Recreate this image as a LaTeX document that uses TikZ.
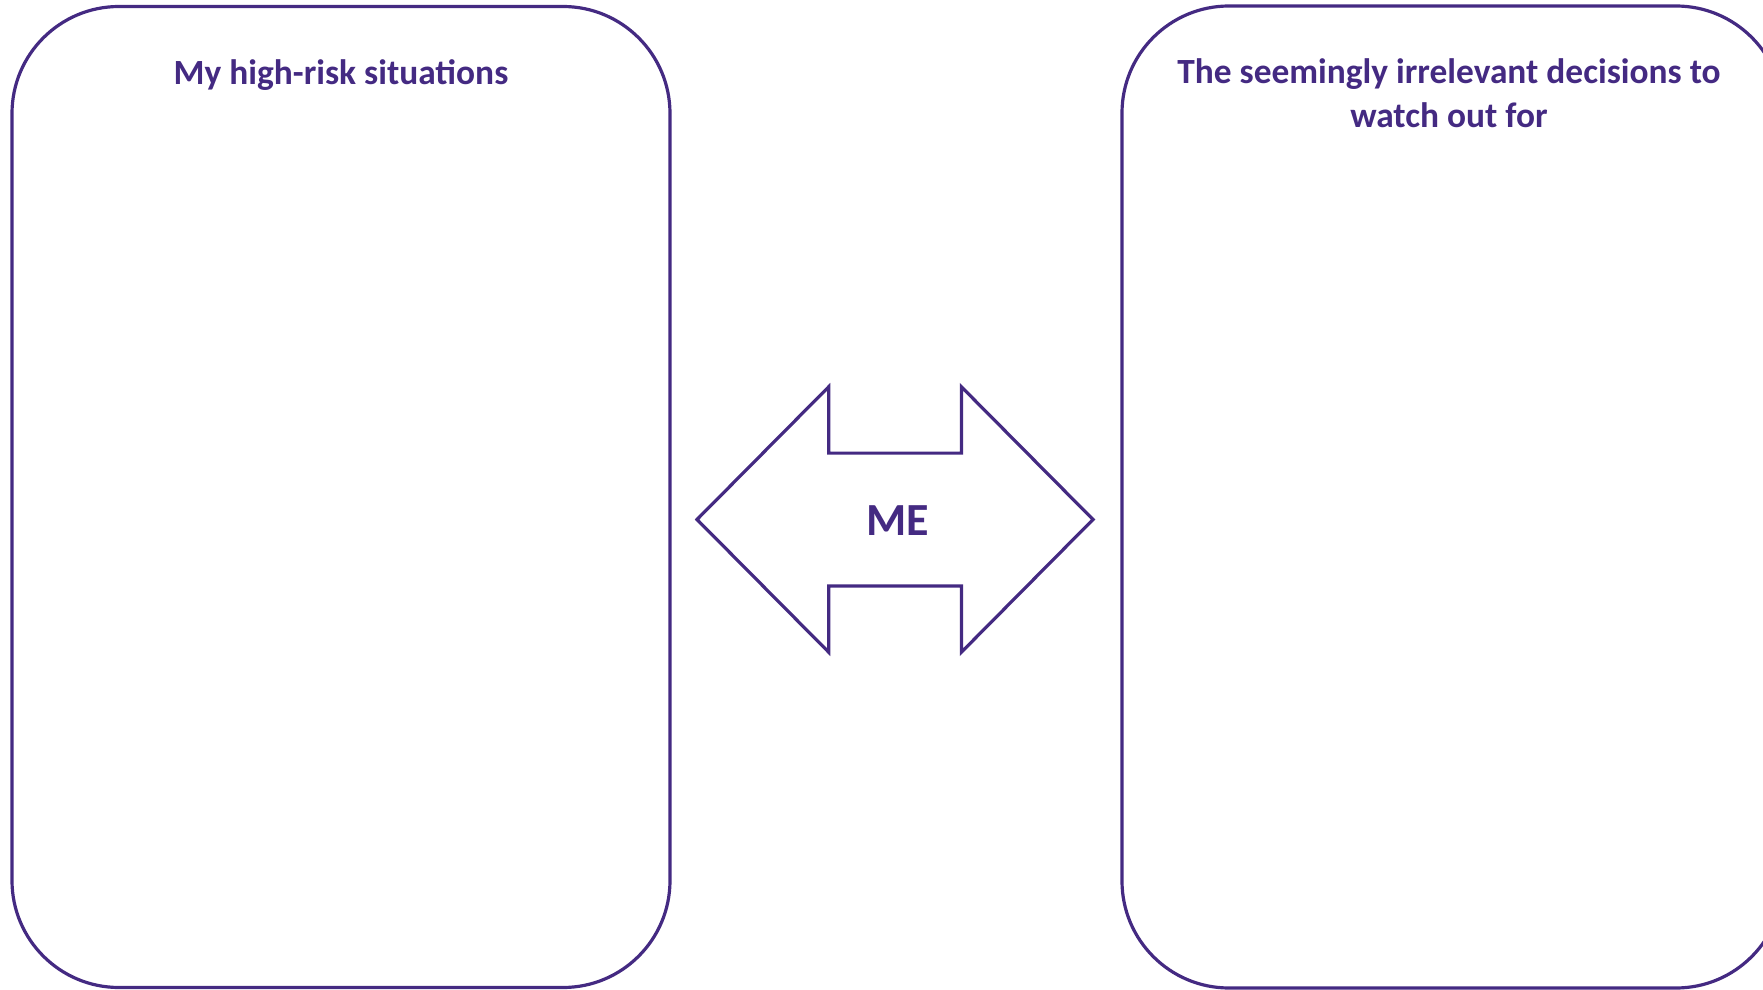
\documentclass[tikz,border=0pt]{standalone}
\usepackage{fontspec}
\setmainfont{Carlito}
\definecolor{violet}{RGB}{68,42,130}

\tikzset{
  panel/.style={draw=violet,line width=1.6pt,rounded corners=53.5pt,inner sep=0pt},
  title/.style={text=violet,font=\bfseries\fontsize{17.7}{22}\selectfont,align=center},
}

\begin{document}
\begin{tikzpicture}[x=0.5pt,y=-0.5pt]
\useasboundingbox (0,0) rectangle (1763,990);
\clip (0,0) rectangle (1763,990);
% the two panels
\node [panel,minimum width=329pt,minimum height=490.5pt] (risk) at (341,497) {};
\node [panel,minimum width=330.5pt,minimum height=491pt] (sid) at (1452.5,497) {};
\node [title] (risktitle) at (341,75) {My high-risk situations};
\node [title] (sidtitle) at (1449,93) {The seemingly irrelevant decisions to\\watch out for};
% double arrow in the middle
\draw [violet,line width=1.6pt,miter limit=10]
  (697,519.5)--(828.7,386.8)--(828.7,453.1)--(961.4,453.1)--(961.4,386.8)--(1093,519.5)
  --(961.4,652.2)--(961.4,585.9)--(828.7,585.9)--(828.7,652.2)--cycle;
\node [text=violet,font=\bfseries\fontsize{23}{26}\selectfont] (me) at (898,521) {ME};
\end{tikzpicture}
\end{document}
